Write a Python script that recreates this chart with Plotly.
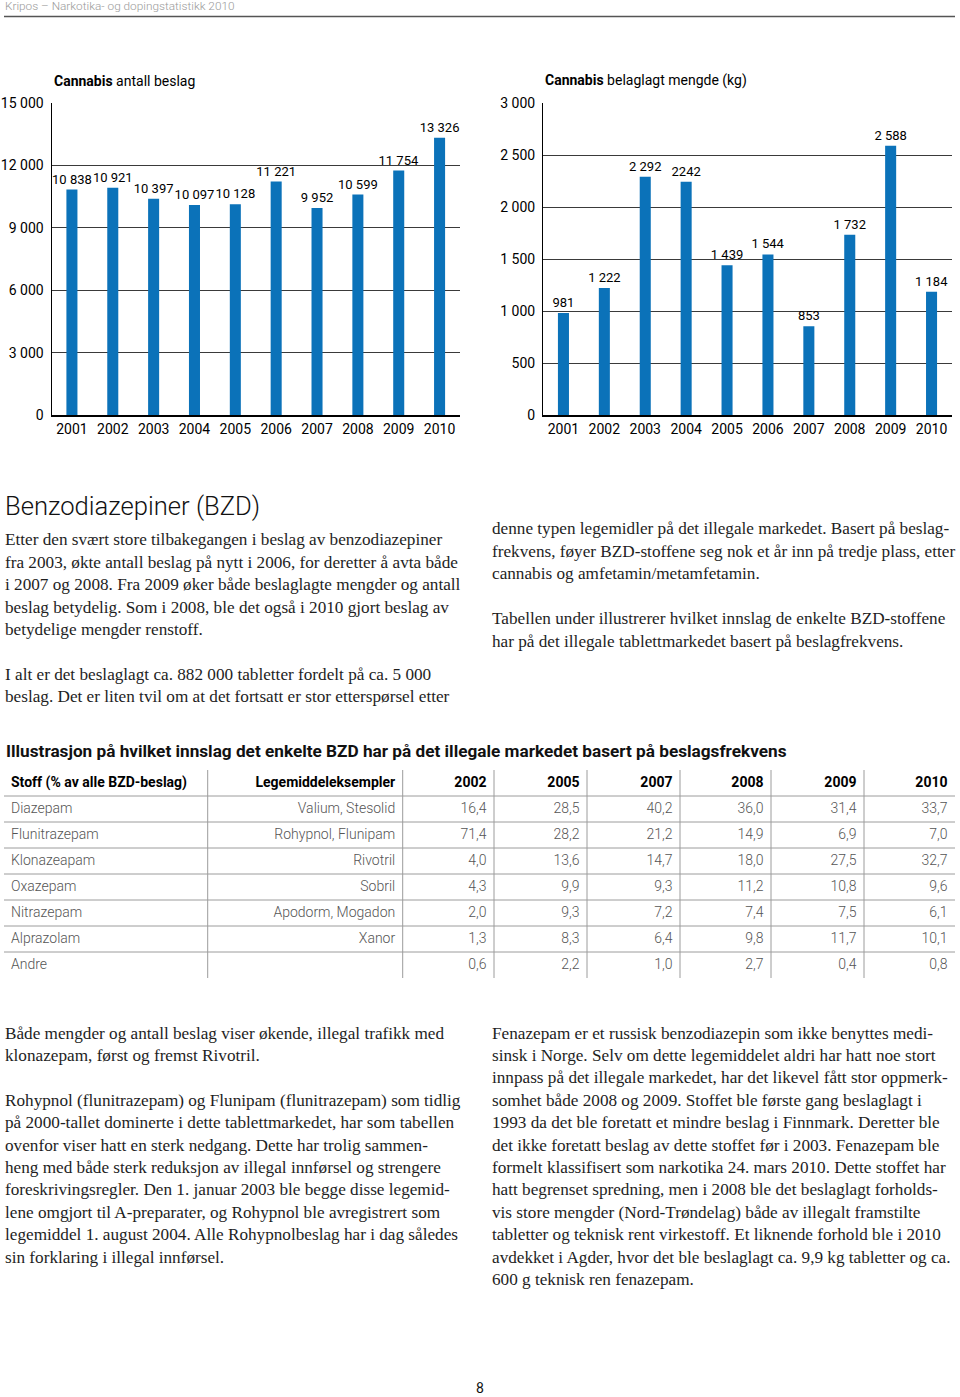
import plotly.graph_objects as go

W, H = 960, 1397


def px(x):
    return x / W


def py(y):
    return 1 - y / H


# ---------------- data ----------------
years = ["2001", "2002", "2003", "2004", "2005", "2006", "2007", "2008", "2009", "2010"]

antall = [10838, 10921, 10397, 10097, 10128, 11221, 9952, 10599, 11754, 13326]
antall_labels = ["10 838", "10 921", "10 397", "10 097", "10 128", "11 221", "9 952", "10 599", "11 754", "13 326"]
antall_ticks = [0, 3000, 6000, 9000, 12000, 15000]
antall_ticktext = ["0", "3 000", "6 000", "9 000", "12 000", "15 000"]

mengde = [981, 1222, 2292, 2242, 1439, 1544, 853, 1732, 2588, 1184]
mengde_labels = ["981", "1 222", "2 292", "2242", "1 439", "1 544", "853", "1 732", "2 588", "1 184"]
mengde_ticks = [0, 500, 1000, 1500, 2000, 2500, 3000]
mengde_ticktext = ["0", "500", "1 000", "1 500", "2 000", "2 500", "3 000"]

table_header = ["Stoff (% av alle BZD-beslag)", "Legemiddeleksempler", "2002", "2005", "2007", "2008", "2009", "2010"]
stoff = ["Diazepam", "Flunitrazepam", "Klonazeapam", "Oxazepam", "Nitrazepam", "Alprazolam", "Andre"]
legemiddel = ["Valium, Stesolid", "Rohypnol, Flunipam", "Rivotril", "Sobril", "Apodorm, Mogadon", "Xanor", ""]
v2002 = [16.4, 71.4, 4.0, 4.3, 2.0, 1.3, 0.6]
v2005 = [28.5, 28.2, 13.6, 9.9, 9.3, 8.3, 2.2]
v2007 = [40.2, 21.2, 14.7, 9.3, 7.2, 6.4, 1.0]
v2008 = [36.0, 14.9, 18.0, 11.2, 7.4, 9.8, 2.7]
v2009 = [31.4, 6.9, 27.5, 10.8, 7.5, 11.7, 0.4]
v2010 = [33.7, 7.0, 32.7, 9.6, 6.1, 10.1, 0.8]

# ---------------- text ----------------
header_text = "Kripos – Narkotika- og dopingstatistikk 2010"
section_title = "Benzodiazepiner (BZD)"
table_title = "Illustrasjon på hvilket innslag det enkelte BZD har på det illegale markedet basert på beslagsfrekvens"

text_top_left = [
    "Etter den svært store tilbakegangen i beslag av benzodiazepiner",
    "fra 2003, økte antall beslag på nytt i 2006, for deretter å avta både",
    "i 2007 og 2008. Fra 2009 øker både beslaglagte mengder og antall",
    "beslag betydelig. Som i 2008, ble det også i 2010 gjort beslag av",
    "betydelige mengder renstoff.",
    "",
    "I alt er det beslaglagt ca. 882 000 tabletter fordelt på ca. 5 000",
    "beslag. Det er liten tvil om at det fortsatt er stor etterspørsel etter",
]
text_top_right = [
    "denne typen legemidler på det illegale markedet. Basert på beslag-",
    "frekvens, føyer BZD-stoffene seg nok et år inn på tredje plass, etter",
    "cannabis og amfetamin/metamfetamin.",
    "",
    "Tabellen under illustrerer hvilket innslag de enkelte BZD-stoffene",
    "har på det illegale tablettmarkedet basert på beslagfrekvens.",
]
text_bottom_left = [
    "Både mengder og antall beslag viser økende, illegal trafikk med",
    "klonazepam, først og fremst Rivotril.",
    "",
    "Rohypnol (flunitrazepam) og Flunipam (flunitrazepam) som tidlig",
    "på 2000-tallet dominerte i dette tablettmarkedet, har som tabellen",
    "ovenfor viser hatt en sterk nedgang. Dette har trolig sammen-",
    "heng med både sterk reduksjon av illegal innførsel og strengere",
    "foreskrivingsregler. Den 1. januar 2003 ble begge disse legemid-",
    "lene omgjort til A-preparater, og Rohypnol ble avregistrert som",
    "legemiddel 1. august 2004. Alle Rohypnolbeslag har i dag således",
    "sin forklaring i illegal innførsel.",
]
text_bottom_right = [
    "Fenazepam er et russisk benzodiazepin som ikke benyttes medi-",
    "sinsk i Norge. Selv om dette legemiddelet aldri har hatt noe stort",
    "innpass på det illegale markedet, har det likevel fått stor oppmerk-",
    "somhet både 2008 og 2009. Stoffet ble første gang beslaglagt i",
    "1993 da det ble foretatt et mindre beslag i Finnmark. Deretter ble",
    "det ikke foretatt beslag av dette stoffet før i 2003. Fenazepam ble",
    "formelt klassifisert som narkotika 24. mars 2010. Dette stoffet har",
    "hatt begrenset spredning, men i 2008 ble det beslaglagt forholds-",
    "vis store mengder (Nord-Trøndelag) både av illegalt framstilte",
    "tabletter og teknisk rent virkestoff. Et liknende forhold ble i 2010",
    "avdekket i Agder, hvor det ble beslaglagt ca. 9,9 kg tabletter og ca.",
    "600 g teknisk ren fenazepam.",
]

# ---------------- style ----------------
SANS = "Roboto"
SERIF = "Liberation Serif"
BLUE = "#0b72b9"
GRID = "#3a3a3a"
BODY = "#1e1e1e"
TABLE_LINE = "#9c9c9c"
LINE_STEP = 22.4

# table layout (page pixel positions of column borders)
col_bounds = [4, 207.7, 402.7, 494, 587, 680, 771, 864, 955]

fig = go.Figure()

# ---------------- bar charts ----------------
fig.add_trace(go.Bar(
    x=years, y=antall, text=antall_labels, textposition="outside",
    constraintext="none", cliponaxis=False, width=0.27,
    marker=dict(color=BLUE, line=dict(width=0)),
    textfont=dict(family=SANS, size=13, color="black"),
    xaxis="x", yaxis="y", hoverinfo="x+y",
))
fig.add_trace(go.Bar(
    x=years, y=mengde, text=mengde_labels, textposition="outside",
    constraintext="none", cliponaxis=False, width=0.27,
    marker=dict(color=BLUE, line=dict(width=0)),
    textfont=dict(family=SANS, size=13, color="black"),
    xaxis="x2", yaxis="y2", hoverinfo="x+y",
))

# ---------------- table (text on a hidden row/column axis) ----------------


def fmt(v):
    return f"{v:.1f}".replace(".", ",")


columns = [stoff, legemiddel] + [[fmt(v) for v in col] for col in (v2002, v2005, v2007, v2008, v2009, v2010)]
n_rows = len(stoff) + 1

for ci, col in enumerate(columns):
    left_aligned = ci == 0
    xpos = col_bounds[ci] + 7 if left_aligned else col_bounds[ci + 1] - 7.5
    pos = "middle right" if left_aligned else "middle left"
    # header cell
    fig.add_trace(go.Scatter(
        x=[xpos], y=[0.5], mode="text", text=[f"<b>{table_header[ci]}</b>"],
        textposition=pos, cliponaxis=False, hoverinfo="skip",
        textfont=dict(family=SANS, size=14, color="black"),
        xaxis="x3", yaxis="y3",
    ))
    # body cells
    fig.add_trace(go.Scatter(
        x=[xpos] * len(col), y=[i + 1.5 for i in range(len(col))], mode="text", text=col,
        textposition=pos, cliponaxis=False, hoverinfo="skip",
        textfont=dict(family=SANS, size=14, color="#555555", weight=300),
        xaxis="x3", yaxis="y3",
    ))

shapes = [dict(type="line", xref="paper", yref="paper",
               x0=px(4), x1=px(955), y0=py(16.5), y1=py(16.5),
               line=dict(color="#555", width=1.5))]
for r in range(1, n_rows):
    shapes.append(dict(type="line", xref="x3", yref="y3", x0=col_bounds[0], x1=col_bounds[-1],
                       y0=r, y1=r, line=dict(color=TABLE_LINE, width=1)))
for b in col_bounds[1:-1]:
    shapes.append(dict(type="line", xref="x3", yref="y3", x0=b, x1=b,
                       y0=0, y1=n_rows, line=dict(color=TABLE_LINE, width=1)))

axis_common_x = dict(
    type="category", showgrid=False, ticks="", showline=True,
    linecolor="black", linewidth=2, zeroline=False, automargin=False,
    tickfont=dict(family=SANS, size=14, color="black"),
)
axis_common_y = dict(
    showgrid=True, gridcolor=GRID, gridwidth=1, zeroline=False, automargin=False,
    showline=True, linecolor="black", linewidth=1, ticks="",
    tickfont=dict(family=SANS, size=14, color="black"),
    ticklabelstandoff=4,
)

fig.update_layout(
    width=W, height=H, autosize=False,
    margin=dict(l=0, r=0, t=0, b=0, pad=0, autoexpand=False),
    paper_bgcolor="white", plot_bgcolor="white", showlegend=False,
    bargap=0.73,
    xaxis=dict(domain=[px(51.5), px(460)], anchor="y", **axis_common_x),
    yaxis=dict(domain=[py(415), py(103)], anchor="x", range=[0, 15000],
               tickvals=antall_ticks, ticktext=antall_ticktext, **axis_common_y),
    xaxis2=dict(domain=[px(543), px(952)], anchor="y2", **axis_common_x),
    yaxis2=dict(domain=[py(415), py(103)], anchor="x2", range=[0, 3000],
                tickvals=mengde_ticks, ticktext=mengde_ticktext, **axis_common_y),
    xaxis3=dict(domain=[0, 1], range=[0, W], visible=False, automargin=False,
                fixedrange=True, anchor="y3"),
    yaxis3=dict(domain=[py(978), py(770)], range=[n_rows, 0], visible=False,
                automargin=False, fixedrange=True, anchor="x3"),
)

annotations = []


def add_text(x, y, text, size, family, color="black", xanchor="left", weight=None):
    font = dict(family=family, size=size, color=color)
    if weight:
        font["weight"] = weight
    annotations.append(dict(
        x=px(x), y=py(y), xref="paper", yref="paper", text=text, showarrow=False,
        xanchor=xanchor, yanchor="middle", align="left", font=font,
    ))


add_text(3, 6, header_text, 11.8, SANS, "#9a9a9a", weight=300)
add_text(52, 81, "<b>Cannabis</b> antall beslag", 14, SANS)
add_text(543, 81, "<b>Cannabis</b> belaglagt mengde (kg)", 14, SANS)
add_text(2.5, 506, section_title, 25.6, SANS, "#111", weight=300)
add_text(4, 751, f"<b>{table_title}</b>", 17.2, SANS, "#111")
add_text(480, 1388, "8", 14, SANS, "#111", xanchor="center")


def add_block(x, y0, lines):
    for i, line in enumerate(lines):
        if line:
            add_text(x, y0 + i * LINE_STEP, line, 17.2, SERIF, BODY)


add_block(2.5, 540, text_top_left)
add_block(489.5, 529, text_top_right)
add_block(2.5, 1033, text_bottom_left)
add_block(489.5, 1033, text_bottom_right)

fig.update_layout(annotations=annotations, shapes=shapes)

post = (
    "document.documentElement.style.margin='0';"
    "document.documentElement.style.padding='0';"
    "document.documentElement.style.overflow='hidden';"
    "document.body.style.margin='0';"
    "document.body.style.padding='0';"
    "document.body.style.overflow='hidden';"
)

fig.write_html("out.html", config={"displayModeBar": False, "responsive": False}, post_script=post)
